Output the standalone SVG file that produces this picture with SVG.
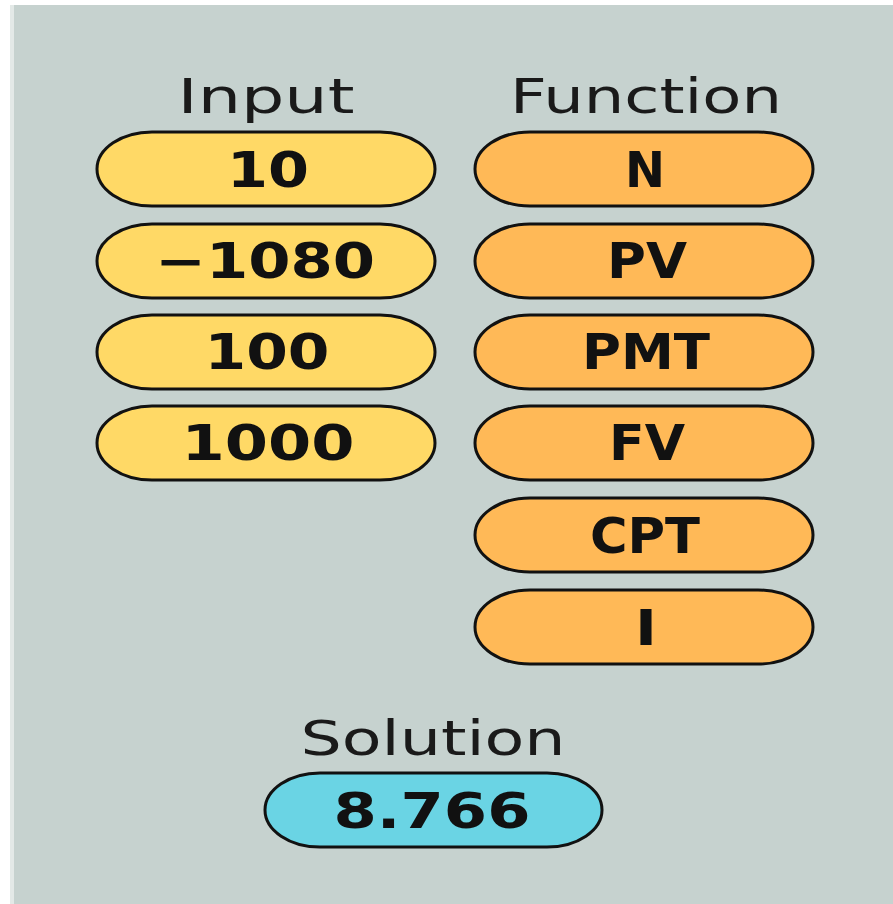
<svg xmlns="http://www.w3.org/2000/svg" width="893" height="904" viewBox="0 0 893 904">
<style>
.bg{fill:#c6d2cf}
.pill{stroke:#111;stroke-width:3}
.in{fill:#ffd966}
.fn{fill:#ffb957}
.sol{fill:#6ad4e4}
.hdr{font-family:"DejaVu Sans",Verdana,sans-serif;font-size:48px;fill:#1a1a1a;text-anchor:middle}
.val{font-family:"DejaVu Sans",Verdana,sans-serif;font-weight:bold;font-size:49px;fill:#111;text-anchor:middle}
</style>
<rect width="893" height="904" fill="#ffffff"/>
<rect x="10" y="5" width="883" height="899" fill="#e3e9e7"/>
<rect x="14" y="5" width="879" height="899" class="bg"/>
<g id="header-input"><text class="hdr" x="266" y="113" textLength="177" lengthAdjust="spacingAndGlyphs">Input</text></g>
<g id="header-function"><text class="hdr" x="646" y="113" textLength="272" lengthAdjust="spacingAndGlyphs">Function</text></g>
<g id="header-solution"><text class="hdr" x="433" y="755" textLength="265" lengthAdjust="spacingAndGlyphs">Solution</text></g>
<g id="in-10"><rect class="pill in" x="97" y="132" width="338" height="74" rx="55" ry="37"/><text class="val" x="268" y="187" textLength="82" lengthAdjust="spacingAndGlyphs">10</text></g>
<g id="in-1080"><rect class="pill in" x="97" y="224" width="338" height="74" rx="55" ry="37"/><text class="val" x="265" y="278" textLength="220" lengthAdjust="spacingAndGlyphs">−1080</text></g>
<g id="in-100"><rect class="pill in" x="97" y="315" width="338" height="74" rx="55" ry="37"/><text class="val" x="267" y="369" textLength="125" lengthAdjust="spacingAndGlyphs">100</text></g>
<g id="in-1000"><rect class="pill in" x="97" y="406" width="338" height="74" rx="55" ry="37"/><text class="val" x="268" y="460" textLength="173" lengthAdjust="spacingAndGlyphs">1000</text></g>
<g id="fn-n"><rect class="pill fn" x="475" y="132" width="338" height="74" rx="55" ry="37"/><text class="val" x="645" y="187" textLength="40" lengthAdjust="spacingAndGlyphs">N</text></g>
<g id="fn-pv"><rect class="pill fn" x="475" y="224" width="338" height="74" rx="55" ry="37"/><text class="val" x="647" y="278" textLength="80" lengthAdjust="spacingAndGlyphs">PV</text></g>
<g id="fn-pmt"><rect class="pill fn" x="475" y="315" width="338" height="74" rx="55" ry="37"/><text class="val" x="646" y="369" textLength="128" lengthAdjust="spacingAndGlyphs">PMT</text></g>
<g id="fn-fv"><rect class="pill fn" x="475" y="406" width="338" height="74" rx="55" ry="37"/><text class="val" x="647" y="460" textLength="76" lengthAdjust="spacingAndGlyphs">FV</text></g>
<g id="fn-cpt"><rect class="pill fn" x="475" y="498" width="338" height="74" rx="55" ry="37"/><text class="val" x="645" y="553" textLength="110" lengthAdjust="spacingAndGlyphs">CPT</text></g>
<g id="fn-i"><rect class="pill fn" x="475" y="590" width="338" height="74" rx="55" ry="37"/><text class="val" x="646" y="645" textLength="22" lengthAdjust="spacingAndGlyphs">I</text></g>
<g id="solution"><rect class="pill sol" x="265" y="773" width="337" height="74" rx="55" ry="37"/><text class="val" x="432" y="828" textLength="197" lengthAdjust="spacingAndGlyphs">8.766</text></g>
<g id="connectors"></g>
</svg>
